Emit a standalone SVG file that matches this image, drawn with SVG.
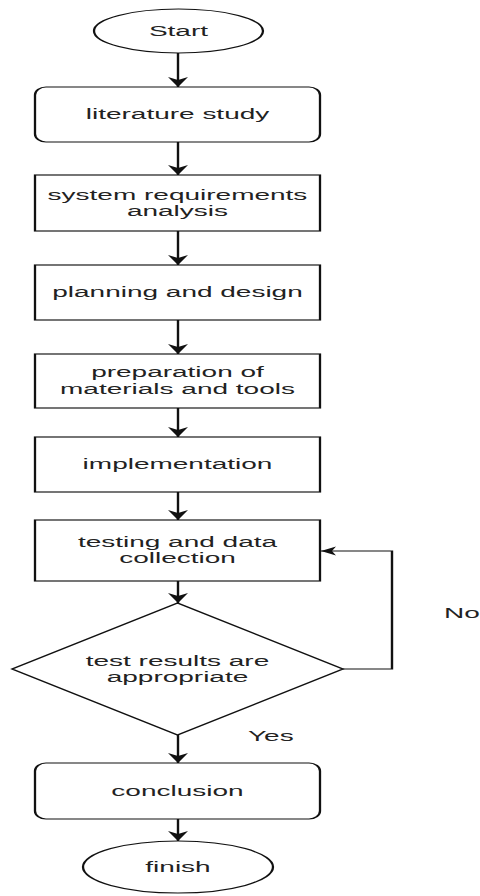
<svg xmlns="http://www.w3.org/2000/svg" width="480" height="896" viewBox="0 0 480 896">
<defs>
<style>
.shape{fill:#ffffff;stroke:#111111;stroke-width:1.15}
.conn{fill:none;stroke:#111111;stroke-width:1.2}
.t{font-family:"Liberation Sans",Arial,sans-serif;font-size:14px;fill:#222222;text-anchor:middle}
.lbl{font-family:"Liberation Sans",Arial,sans-serif;font-size:14px;fill:#222222;text-anchor:start}
</style>
<marker id="mDown" markerUnits="userSpaceOnUse" markerWidth="10" markerHeight="10" refX="5" refY="10" orient="0" overflow="visible">
<path d="M5,10 L0,0 L5,3 L10,0 Z" fill="#111111"/>
</marker>
<marker id="mLeft" markerUnits="userSpaceOnUse" markerWidth="8" markerHeight="9" refX="0" refY="4.5" orient="0" overflow="visible">
<path d="M0,4.5 L7.5,0 L5.5,4.5 L7.5,9 Z" fill="#111111"/>
</marker>
</defs>
<rect x="0" y="0" width="480" height="896" fill="#ffffff"/>
<g transform="scale(2 1)">
<g id="connectors">
<path class="conn" d="M89,53 L89,87" marker-end="url(#mDown)"/>
<path class="conn" d="M89,142 L89,175" marker-end="url(#mDown)"/>
<path class="conn" d="M89,231 L89,265" marker-end="url(#mDown)"/>
<path class="conn" d="M89,320 L89,354" marker-end="url(#mDown)"/>
<path class="conn" d="M89,408 L89,437" marker-end="url(#mDown)"/>
<path class="conn" d="M89,492 L89,520" marker-end="url(#mDown)"/>
<path class="conn" d="M89,581 L89,603" marker-end="url(#mDown)"/>
<path class="conn" d="M89,735 L89,763" marker-end="url(#mDown)"/>
<path class="conn" d="M89,819 L89,841" marker-end="url(#mDown)"/>
<path class="conn" d="M171.5,669 L196,669 L196,551 L160.5,551" marker-end="url(#mLeft)"/>
<text class="lbl" x="222" y="618">No</text>
<text class="lbl" x="124" y="741">Yes</text>
</g>
<g id="start">
<ellipse class="shape" cx="89.25" cy="31" rx="42.25" ry="22"/>
<text class="t" x="89.25" y="36">Start</text>
</g>
<g id="literature">
<rect class="shape" x="17.5" y="87" width="142.5" height="55" rx="5.5" ry="8"/>
<text class="t" x="88.75" y="119.5">literature study</text>
</g>
<g id="requirements">
<rect class="shape" x="17.5" y="175" width="142.5" height="56"/>
<text class="t" x="88.75" y="200">system requirements</text>
<text class="t" x="88.75" y="216.5">analysis</text>
</g>
<g id="planning">
<rect class="shape" x="17.5" y="265" width="142.5" height="55"/>
<text class="t" x="88.75" y="297.5">planning and design</text>
</g>
<g id="preparation">
<rect class="shape" x="17.5" y="354" width="142.5" height="54"/>
<text class="t" x="88.75" y="377.5">preparation of</text>
<text class="t" x="88.75" y="394.5">materials and tools</text>
</g>
<g id="implementation">
<rect class="shape" x="17.5" y="437" width="142.5" height="55"/>
<text class="t" x="88.75" y="469.5">implementation</text>
</g>
<g id="testing">
<rect class="shape" x="17.5" y="520" width="142.5" height="61"/>
<text class="t" x="88.75" y="547">testing and data</text>
<text class="t" x="88.75" y="563.5">collection</text>
</g>
<g id="decision">
<polygon class="shape" points="88.75,603 171.5,669 88.75,735 6,669"/>
<text class="t" x="88.75" y="666">test results are</text>
<text class="t" x="88.75" y="682.5">appropriate</text>
</g>
<g id="conclusion">
<rect class="shape" x="17.5" y="763" width="142.5" height="56" rx="5.5" ry="8"/>
<text class="t" x="88.75" y="796">conclusion</text>
</g>
<g id="finish">
<ellipse class="shape" cx="89" cy="867" rx="47.5" ry="26"/>
<text class="t" x="89" y="872">finish</text>
</g>
</g>
</svg>
